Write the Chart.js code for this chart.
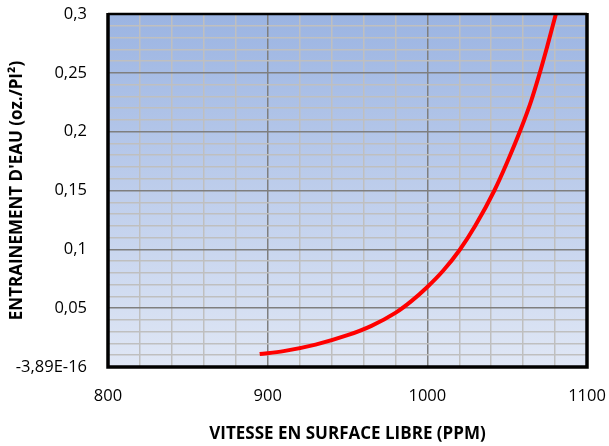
<!DOCTYPE html>
<html>
<head>
<meta charset="utf-8">
<script src="https://cdn.jsdelivr.net/npm/chart.js@4"></script>
<style>
  html, body { margin: 0; padding: 0; background: #fff; }
  #wrap { width: 609px; height: 446px; }
</style>
</head>
<body>
<div id="wrap"><canvas id="chart" width="609" height="446"></canvas></div>
<script>
const vitesse = [895, 910, 930, 950, 965, 980, 990, 1000, 1010, 1020, 1030, 1042, 1050, 1058.5, 1065, 1070, 1075, 1080.5];
const entrainement = [0.011, 0.0135, 0.019, 0.027, 0.035, 0.046, 0.056, 0.068, 0.082, 0.099, 0.120, 0.150, 0.174, 0.202, 0.226, 0.248, 0.272, 0.300];
const xMajorTicks = [800, 900, 1000, 1100];
const yTickLabels = { 0: '-3,89E-16', 5: '0,05', 10: '0,1', 15: '0,15', 20: '0,2', 25: '0,25', 30: '0,3' };

const FONT = '"Open Sans", Lato, sans-serif';

const plotBg = {
  id: 'plotBg',
  beforeDraw(chart) {
    const { ctx, chartArea: a } = chart;
    const g = ctx.createLinearGradient(0, a.top, 0, a.bottom);
    g.addColorStop(0, '#9bb4e2');
    g.addColorStop(1, '#e0e7f5');
    ctx.save();
    ctx.fillStyle = g;
    ctx.fillRect(a.left, a.top, a.right - a.left, a.bottom - a.top);
    ctx.restore();
  },
  afterDatasetsDraw(chart) {
    const { ctx, chartArea: a } = chart;
    ctx.save();
    ctx.strokeStyle = '#000';
    ctx.lineWidth = 2.5;
    ctx.beginPath();
    ctx.moveTo(a.left, a.top); ctx.lineTo(a.right, a.top);
    ctx.stroke();
    ctx.lineWidth = 3.5;
    ctx.beginPath();
    ctx.moveTo(a.left, a.top - 1); ctx.lineTo(a.left, a.bottom);
    ctx.lineTo(a.right, a.bottom); ctx.lineTo(a.right, a.top - 1);
    ctx.stroke();
    ctx.restore();
  }
};

new Chart(document.getElementById('chart'), {
  type: 'line',
  data: {
    datasets: [{
      data: vitesse.map((v, i) => ({ x: v, y: entrainement[i] })),
      borderColor: '#ff0000',
      borderWidth: 4,
      pointRadius: 0,
      cubicInterpolationMode: 'monotone',
      fill: false
    }]
  },
  options: {
    responsive: false,
    animation: false,
    layout: { padding: { top: 14, right: 22, left: 0, bottom: 0 } },
    plugins: { legend: { display: false }, tooltip: { enabled: false } },
    scales: {
      x: {
        type: 'linear', min: 800, max: 1100,
        ticks: {
          stepSize: 20, autoSkip: false, maxRotation: 0, padding: 19,
          color: '#000', font: { family: FONT, size: 16.5 },
          callback: v => xMajorTicks.includes(v) ? String(v) : ''
        },
        grid: {
          drawTicks: false,
          color: c => (c.tick && c.tick.value % 100 === 0) ? '#7f7f7f' : '#bfbfbf',
          lineWidth: 1.5
        },
        border: { display: false },
        title: {
          display: true, text: 'VITESSE EN SURFACE LIBRE (PPM)', color: '#000',
          font: { family: FONT, size: 17, weight: 'bold' }, padding: { top: 0, bottom: 2 }
        },
        afterFit(s) { s.height = 79; s.paddingLeft = 0; s.paddingRight = 0; }
      },
      y: {
        min: 0, max: 0.3,
        ticks: {
          stepSize: 0.01, autoSkip: false, padding: 21,
          color: '#000', font: { family: FONT, size: 16.5 },
          callback: v => { const k = Math.round(v * 100); return (k % 5 === 0) ? yTickLabels[k] : ''; }
        },
        grid: {
          drawTicks: false,
          color: c => (c.tick && Math.round(c.tick.value * 100) % 5 === 0) ? '#7f7f7f' : '#bfbfbf',
          lineWidth: 1.5
        },
        border: { display: false },
        title: {
          display: true, text: "ENTRAINEMENT D'EAU (oz./PI²)", color: '#000',
          font: { family: FONT, size: 17, weight: 'bold' }, padding: { top: 7, bottom: 0 }
        },
        afterFit(s) { s.width = 108; s.paddingTop = 0; s.paddingBottom = 0; }
      }
    }
  },
  plugins: [plotBg]
});
</script>
</body>
</html>
